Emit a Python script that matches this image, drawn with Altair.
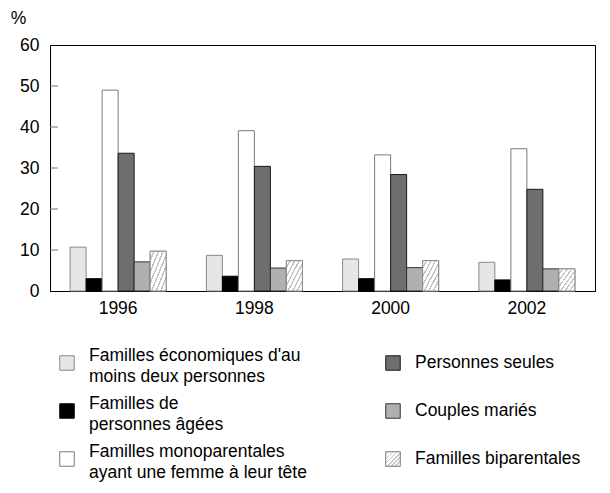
import altair as alt
import pandas as pd

years = ["1996", "1998", "2000", "2002"]
categories = [
    "Familles économiques d'au|moins deux personnes",
    "Familles de|personnes âgées",
    "Familles monoparentales|ayant une femme à leur tête",
    "Personnes seules",
    "Couples mariés",
    "Familles biparentales",
]
values = {
    categories[0]: [10.7, 8.7, 7.8, 7.0],
    categories[1]: [3.0, 3.6, 3.0, 2.7],
    categories[2]: [49.0, 39.1, 33.2, 34.7],
    categories[3]: [33.6, 30.4, 28.4, 24.8],
    categories[4]: [7.1, 5.6, 5.7, 5.4],
    categories[5]: [9.7, 7.4, 7.4, 5.4],
}
fills = ["#e6e6e6", "#000000", "#ffffff", "#6e6e6e", "#b0b0b0", "#ffffff"]
strokes = ["#8a8a8a", "#000000", "#7a7a7a", "#1a1a1a", "#333333", "#8a8a8a"]
y_ticks = [0, 10, 20, 30, 40, 50, 60]
inner_ticks = [10, 20, 30, 40, 50]
legend_col = [0, 0, 0, 1, 1, 1]
legend_row = [0, 1, 2, 0, 1, 2]

FONT = "Liberation Sans"

rows = []
for c in categories:
    for y, v in zip(years, values[c]):
        rows.append({"year": y, "cat": c, "value": v})
df = pd.DataFrame(rows)

n = 7
stops = []
for i in range(n):
    a, b, c = i / n, (i + 0.65) / n, (i + 1) / n
    stops += [
        alt.GradientStop(color="#ffffff", offset=a),
        alt.GradientStop(color="#ffffff", offset=b),
        alt.GradientStop(color="#c4c4c4", offset=b),
        alt.GradientStop(color="#c4c4c4", offset=c),
    ]
hatch = alt.LinearGradient(gradient="linear", stops=stops, x1=0, y1=0, x2=1, y2=1)

fill_scale = alt.Scale(domain=categories, range=fills)
stroke_scale = alt.Scale(domain=categories, range=strokes)

x_enc = alt.X(
    "year:N",
    sort=years,
    title=None,
    scale=alt.Scale(paddingInner=0.295, paddingOuter=0.1475),
    axis=alt.Axis(labelAngle=0, tickSize=0, labelPadding=8, labelFontSize=17.5,
                  labelFont=FONT, labelColor="#000", domainColor="#000"),
)
xo_enc = alt.XOffset("cat:N", sort=categories,
                     scale=alt.Scale(domain=categories, paddingInner=0, paddingOuter=0))
y_enc = alt.Y(
    "value:Q",
    scale=alt.Scale(domain=[0, 60]),
    axis=alt.Axis(values=y_ticks, tickSize=0, grid=False, labelPadding=11,
                  labelFontSize=17.5, labelFont=FONT, labelColor="#000",
                  domainColor="#000", title="%", titleAngle=0, titleX=-32, titleY=-27,
                  titleFontSize=17.5, titleFont=FONT, titleFontWeight="normal",
                  titleAlign="center", titleBaseline="middle", titleColor="#000"),
)

base = alt.Chart(df)
bars = base.mark_bar(strokeWidth=1).encode(
    x=x_enc, xOffset=xo_enc, y=y_enc,
    fill=alt.Fill("cat:N", scale=fill_scale, legend=None),
    stroke=alt.Stroke("cat:N", scale=stroke_scale, legend=None),
)
hatched = base.transform_filter(alt.datum.cat == categories[5]).mark_bar(
    fill=hatch, stroke="#8a8a8a", strokeWidth=1
).encode(x=x_enc, xOffset=xo_enc, y=y_enc)

ticks = alt.Chart(pd.DataFrame({"t": inner_ticks})).mark_rule(color="#777777").encode(
    y=alt.Y("t:Q"), x=alt.value(0), x2=alt.value(8)
)

main = alt.layer(bars, hatched, ticks).properties(
    width=545, height=246, view=alt.ViewBackground(stroke="#000000", strokeWidth=1)
)

ldf = pd.DataFrame({"cat": categories, "col": legend_col, "row": legend_row})
lx = alt.X("col:Q", scale=alt.Scale(domain=[0, 1], range=[17, 343]), axis=None)
ly = alt.Y("row:Q", scale=alt.Scale(domain=[0, 2], range=[45, 141]), axis=None)
lbase = alt.Chart(ldf)
lsq = lbase.mark_point(shape="square", size=210, filled=True, opacity=1, strokeWidth=1).encode(
    x=lx, y=ly,
    fill=alt.Fill("cat:N", scale=fill_scale, legend=None),
    stroke=alt.Stroke("cat:N", scale=stroke_scale, legend=None),
)
lhatch = lbase.transform_filter(alt.datum.cat == categories[5]).mark_point(
    shape="square", size=210, filled=True, opacity=1, fill=hatch, stroke="#8a8a8a", strokeWidth=1
).encode(x=lx, y=ly)
text_style = dict(align="left", baseline="middle", dx=22, fontSize=17.5, font=FONT,
                  lineBreak="|", lineHeight=21, color="#000")
ltext_left = lbase.transform_filter(alt.datum.col == 0).mark_text(dy=-7, **text_style).encode(
    x=lx, y=ly, text="cat:N"
)
ltext_right = lbase.transform_filter(alt.datum.col == 1).mark_text(dy=0, **text_style).encode(
    x=lx, y=ly, text="cat:N"
)
legend = alt.layer(lsq, lhatch, ltext_left, ltext_right).properties(
    width=500, height=130, view=alt.ViewBackground(stroke="transparent")
)

chart = alt.vconcat(main, legend, spacing=0).properties(
    padding={"left": 1, "top": 0, "right": 0, "bottom": 0}
).configure(background="white")

chart.save("out.html", embed_options={"renderer": "svg", "actions": False})
